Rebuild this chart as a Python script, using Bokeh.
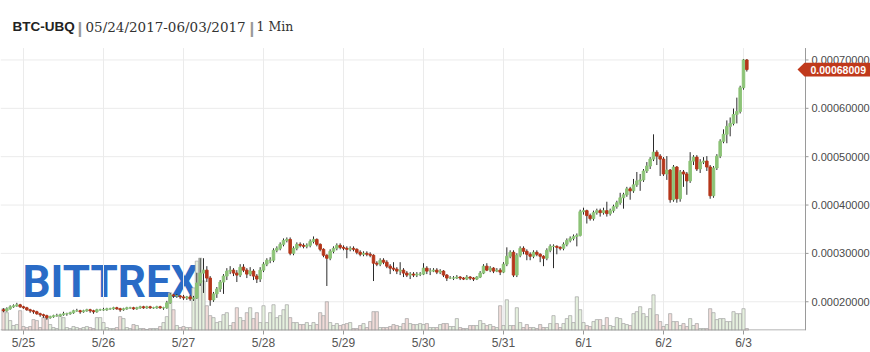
from bokeh.plotting import figure
from bokeh.models import Range1d, FixedTicker, Label, PolyAnnotation, ColumnDataSource
from bokeh.embed import file_html
from bokeh.resources import INLINE
from bokeh.core.properties import value

# ---------------- data (hourly candles, prices in satoshi) ----------------
hours = list(range(-6, 218))  # hours from 2017-05-25 00:00
first_open_sat = 18340
closes_sat = [
    18135, 18545, 18955, 19160, 19365, 18955,
    18750, 18340, 18135, 17930, 17520, 17315, 17110, 16700, 16905, 17110, 17110, 17315,
    17520, 17520, 17725, 18135, 18135, 17930, 18135, 18340, 18135, 17930, 18340, 18340,
    18340, 18545, 18545, 18750, 18545, 18340, 18545, 18750, 18750, 18545, 18750, 18955,
    18750, 18955, 18750, 18750, 18955, 18750, 18750, 19775, 21415, 21210, 21210, 21005,
    20800, 21005, 20595, 20800, 23875, 25925, 26540, 24900, 20390, 21620, 22645, 24080,
    25310, 26335, 26540, 25925, 25515, 27155, 26540, 25720, 26335, 25310, 24695, 26540,
    27770, 28590, 28590, 30640, 31050, 31870, 32690, 32895, 30025, 31050, 31870, 31665,
    31460, 31665, 32485, 32895, 31870, 30845, 29615, 29000, 30435, 31050, 31665, 31255,
    31050, 30845, 31050, 30845, 30230, 29820, 30025, 29820, 29615, 27975, 27770, 28590,
    28180, 27360, 26950, 26745, 26335, 26540, 25925, 25515, 25720, 25515, 25720, 25720,
    26950, 26335, 26335, 26540, 26130, 26335, 25515, 24900, 24900, 24900, 25105, 24900,
    24695, 25105, 24900, 24695, 25105, 25925, 27360, 26540, 26950, 26335, 26540, 26130,
    27770, 29410, 30230, 25515, 29615, 31050, 30435, 29820, 29410, 30230, 29820, 29410,
    29000, 30640, 31460, 31460, 31255, 31050, 31870, 32690, 33100, 33510, 33715, 38635,
    38840, 37815, 37200, 38430, 38840, 38430, 38840, 38225, 38840, 39660, 40480, 41505,
    42120, 43350, 42940, 44170, 44990, 45195, 47040, 48065, 49500, 50935, 50115, 49500,
    46425, 47245, 41095, 47860, 41300, 46835, 46425, 44990, 49090, 49910, 47450, 48885,
    49090, 47860, 41915, 47655, 50115, 53190, 54625, 56265, 56880, 58725, 59340, 64260,
    70000, 68009,
]
highs_sat = [
    18650, 18850, 19260, 19460, 19780, 19570,
    19160, 18955, 18545, 18340, 18135, 17725, 17520, 17315, 17110, 17315, 17520, 17520,
    17930, 17725, 17930, 18340, 18545, 18340, 18340, 18545, 18545, 18340, 18545, 18545,
    18750, 18750, 18750, 18955, 18955, 18750, 18750, 18955, 18955, 18955, 18955, 19160,
    19160, 19160, 19160, 18955, 19160, 19160, 18955, 20185, 21825, 21620, 21620, 21415,
    21415, 21210, 21415, 21210, 26000, 29000, 29000, 27360, 25310, 22030, 23050, 24490,
    25720, 26950, 27360, 26950, 26540, 27770, 27770, 26950, 27155, 26745, 25720, 27155,
    28180, 29000, 29205, 31050, 31460, 32280, 33100, 33305, 33305, 31460, 32280, 32280,
    32075, 32075, 32895, 33510, 33100, 32075, 31050, 29820, 30845, 31460, 32075, 32075,
    31665, 31460, 31460, 31460, 31050, 30640, 30435, 30435, 30230, 29820, 28385, 29000,
    29000, 28590, 27770, 28180, 27155, 28180, 26950, 26335, 26130, 26130, 26130, 26130,
    27975, 27360, 26950, 26950, 26950, 26745, 26540, 25720, 25310, 25310, 25515, 25310,
    25105, 25515, 25310, 25105, 25310, 26335, 27770, 27975, 27360, 27155, 26950, 26950,
    28180, 31255, 30640, 30640, 30025, 31460, 31460, 30845, 30230, 30640, 30640, 30025,
    29615, 31050, 31870, 31870, 31665, 31460, 32280, 33100, 33510, 33920, 34125, 39045,
    39455, 39045, 38225, 38840, 39250, 39250, 39455, 40685, 39250, 40070, 40890, 42530,
    42530, 43760, 43760, 45400, 46835, 46425, 47450, 48885, 49910, 54625, 51345, 50525,
    49910, 50115, 47450, 48270, 48065, 47245, 47245, 46835, 50935, 50320, 50320, 49500,
    49910, 50115, 48270, 48065, 50525, 53600, 55650, 57500, 58110, 59955, 62210, 64670,
    70200, 70200,
]
lows_sat = [
    17830, 17930, 18340, 18750, 18955, 18750,
    18545, 18135, 17725, 17520, 17315, 16905, 16700, 16290, 16495, 16700, 16905, 16905,
    17110, 17110, 17315, 17520, 17930, 17520, 17725, 17930, 17725, 17520, 17725, 18135,
    18135, 18135, 18340, 18340, 18340, 17930, 18135, 18340, 18545, 18340, 18340, 18545,
    18545, 18545, 18545, 18545, 18545, 18545, 18340, 18545, 19570, 20800, 20800, 20595,
    20390, 20390, 20185, 20185, 20595, 23260, 21825, 24080, 19160, 19980, 20800, 22030,
    21625, 24490, 25720, 25310, 24080, 25105, 26130, 24900, 25310, 24490, 23875, 24080,
    26130, 27360, 27975, 28180, 30230, 30640, 31460, 32280, 29615, 29615, 30640, 31255,
    31050, 31050, 31255, 32075, 31460, 30435, 29205, 23260, 28590, 30025, 30640, 30845,
    30640, 29000, 30435, 30435, 29820, 29410, 29410, 29410, 29205, 24285, 27360, 27360,
    27770, 26950, 25720, 26335, 25720, 25515, 25105, 25105, 24695, 25105, 25105, 25310,
    25515, 25720, 25515, 26130, 25720, 25720, 25105, 24285, 24695, 24490, 24695, 24490,
    24490, 24490, 24490, 24285, 24490, 24900, 25720, 26335, 26130, 25925, 26130, 25515,
    25925, 27360, 29000, 25105, 25105, 29205, 29820, 28590, 28590, 29000, 29410, 28180,
    27360, 28590, 30230, 26950, 29820, 30640, 30640, 31460, 32280, 32690, 31460, 33510,
    38020, 36175, 36790, 36790, 38020, 37610, 38020, 37610, 37815, 38430, 39250, 40070,
    39250, 41710, 41100, 42530, 43760, 42940, 44785, 46630, 47450, 49090, 48270, 46015,
    46015, 45195, 40480, 40685, 40480, 40685, 43760, 42120, 44580, 48270, 47040, 46630,
    48475, 47040, 41300, 41505, 47245, 49705, 52780, 52780, 54215, 56470, 56880, 58930,
    63850, 67600,
]
volumes = [
    22, 18, 10, 5, 6, 20,
    4, 3, 4, 11, 10, 3, 13, 12, 6, 3, 2, 15, 13, 3, 2, 4, 3, 2, 3, 4, 3, 2, 13, 13,
    8, 3, 2, 2, 3, 14, 12, 3, 2, 6, 5, 2, 2, 1, 2, 2, 2, 4, 8, 14, 38, 21, 5, 3,
    4, 3, 3, 43, 70, 73, 50, 25, 15, 13, 8, 9, 16, 18, 5, 8, 23, 13, 10, 18, 23, 12, 18, 8,
    25, 8, 18, 26, 13, 15, 21, 26, 13, 8, 8, 6, 6, 8, 5, 8, 6, 18, 15, 29, 8, 5, 7, 5,
    6, 7, 8, 2, 2, 5, 7, 3, 9, 19, 19, 3, 3, 3, 4, 6, 5, 4, 7, 12, 7, 6, 6, 7,
    6, 7, 3, 3, 3, 6, 7, 7, 4, 4, 12, 3, 2, 2, 5, 5, 5, 10, 7, 5, 6, 4, 3, 25,
    5, 31, 5, 5, 23, 8, 3, 6, 3, 3, 2, 6, 3, 3, 7, 15, 7, 3, 7, 12, 15, 8, 34, 21,
    8, 5, 4, 9, 11, 11, 5, 13, 5, 4, 13, 12, 7, 6, 5, 17, 19, 24, 17, 14, 22, 36, 16, 9,
    4, 6, 17, 9, 9, 5, 7, 4, 12, 5, 7, 2, 2, 2, 22, 18, 11, 12, 12, 9, 9, 19, 17, 17,
    22, 2,
]
day_ticks = [0, 24, 48, 72, 96, 120, 144, 168, 192, 216]
day_labels = ["5/25", "5/26", "5/27", "5/28", "5/29", "5/30", "5/31", "6/1", "6/2", "6/3"]
price_ticks = [0.0002, 0.0003, 0.0004, 0.0005, 0.0006, 0.0007]
title_pair = "BTC-UBQ"
title_dates = "05/24/2017-06/03/2017"
title_interval = "1 Min"

# ---------------- derived ----------------
SAT = 1e-8
close = [c * SAT for c in closes_sat]
opens = [first_open_sat * SAT] + close[:-1]
high = [h * SAT for h in highs_sat]
low = [l * SAT for l in lows_sat]
up = [c >= o for o, c in zip(opens, close)]

GREEN = "#8cc377"
RED = "#b5361a"
VGREEN = "#e5f0de"
VRED = "#f0dbd8"
AXIS = "#9a9a9a"
GRID = "#ebebeb"

src = ColumnDataSource(dict(
    x=hours, top=[max(o, c) for o, c in zip(opens, close)],
    bottom=[min(o, c) for o, c in zip(opens, close)],
    high=high, low=low,
    color=[GREEN if u else RED for u in up],
    vol=volumes, vcolor=[VGREEN if u else VRED for u in up],
))

# frame covers whole canvas except the x-axis strip at the bottom
FW, FH = 870, 333
PX_PER_H = 80.0 / 24.0
X0 = -23 / PX_PER_H
X1 = X0 + FW / PX_PER_H
PX_PER_P = 48.8 / 0.0001
Y0 = 0.0007 - (333 - 60) / PX_PER_P
Y1 = 0.0007 + 60 / PX_PER_P
hpp = 1 / PX_PER_H
ppp = 1 / PX_PER_P
X_AX = X0 + 805 * hpp        # plot area right edge (price axis)
Y_TOP = Y1 - 48 * ppp        # plot area top edge

p = figure(width=870, height=352, x_range=Range1d(X0, X1), y_range=Range1d(Y0, Y1),
           output_backend="svg", toolbar_location=None, y_axis_location=None,
           min_border_left=0, min_border_right=0, min_border_top=0, min_border_bottom=19)
p.outline_line_color = None
p.background_fill_color = "white"
p.border_fill_color = "white"
p.xgrid.grid_line_color = None
p.ygrid.grid_line_color = None

p.extra_y_ranges = {"vol": Range1d(0, max(volumes) * FH / 73.0)}

# x axis (ticks + labels)
xa = p.xaxis[0]
xa.ticker = FixedTicker(ticks=day_ticks)
xa.major_label_overrides = {t: l for t, l in zip(day_ticks, day_labels)}
xa.axis_line_color = None
xa.major_tick_line_color = AXIS
xa.major_tick_out = 4
xa.major_tick_in = 0
xa.minor_tick_line_color = None
xa.major_label_standoff = 1
xa.major_label_text_font = "Liberation Sans"
xa.major_label_text_font_size = "12px"
xa.major_label_text_color = "#555555"

# grid lines limited to the plot area
p.segment(x0=day_ticks, x1=day_ticks, y0=[Y0] * len(day_ticks), y1=[Y_TOP] * len(day_ticks),
          line_color=GRID, line_width=1)
p.segment(x0=[X0] * len(price_ticks), x1=[X_AX] * len(price_ticks), y0=price_ticks, y1=price_ticks,
          line_color=GRID, line_width=1)

# watermark
p.add_layout(Label(x=22, y=49, x_units="screen", y_units="screen", text="BITTREX",
                   text_font="Roboto", text_font_style="bold", text_font_size="44px",
                   text_baseline="alphabetic", text_color="#2a6bc6", level="underlay"))

# volume
p.vbar(x="x", top="vol", bottom=0, width=0.95, y_range_name="vol", source=src,
       fill_color="vcolor", line_color="#a3a3a3", line_width=0.7)

# candles
p.segment(x0="x", y0="high", x1="x", y1="low", line_color="#2b2b2b", line_width=1, source=src)
p.vbar(x="x", top="top", bottom="bottom", width=0.75, source=src,
       fill_color="color", line_color="color", line_width=1)

# axis lines (bottom and right of plot area)
p.segment(x0=[X0], x1=[X_AX], y0=[Y0 + 0.5 * ppp], y1=[Y0 + 0.5 * ppp], line_color=AXIS, line_width=1)
p.segment(x0=[X_AX], x1=[X_AX], y0=[Y0], y1=[Y_TOP], line_color=AXIS, line_width=1)

# price axis ticks and labels
p.segment(x0=[X_AX] * len(price_ticks), x1=[X_AX + 3 * hpp] * len(price_ticks),
          y0=price_ticks, y1=price_ticks, line_color=AXIS, line_width=1)
p.text(x=[X_AX + 6 * hpp] * len(price_ticks), y=price_ticks,
       text=["%.8f" % v for v in price_ticks], text_baseline="middle", text_align="left",
       text_font=value("Liberation Sans"), text_font_size="11px", text_color="#4a4a4a")

# title
ty = 333 - 29
p.add_layout(Label(x=12, y=ty, x_units="screen", y_units="screen", text=title_pair,
                   text_font="Liberation Sans", text_font_style="bold", text_font_size="13.5px",
                   text_baseline="alphabetic", text_color="#222222"))
p.add_layout(Label(x=77, y=ty - 2, x_units="screen", y_units="screen", text="|",
                   text_font="Liberation Sans", text_font_style="bold", text_font_size="17px",
                   text_baseline="alphabetic", text_color="#999999"))
p.add_layout(Label(x=85, y=ty, x_units="screen", y_units="screen", text=title_dates,
                   text_font="DejaVu Serif", text_font_size="13.5px",
                   text_baseline="alphabetic", text_color="#333333"))
p.add_layout(Label(x=249, y=ty - 2, x_units="screen", y_units="screen", text="|",
                   text_font="Liberation Sans", text_font_style="bold", text_font_size="17px",
                   text_baseline="alphabetic", text_color="#999999"))
p.add_layout(Label(x=256, y=ty, x_units="screen", y_units="screen", text=title_interval,
                   text_font="DejaVu Serif", text_font_size="12.5px",
                   text_baseline="alphabetic", text_color="#333333"))

# last price tag
last = close[-1]
tag = PolyAnnotation(
    xs=[X_AX - 8 * hpp, X_AX - 1 * hpp, X1, X1, X_AX - 1 * hpp],
    ys=[last, last + 7 * ppp, last + 7 * ppp, last - 7 * ppp, last - 7 * ppp],
    fill_color="#c0391b", fill_alpha=1.0, line_color=None, level="overlay")
p.add_layout(tag)
p.add_layout(Label(x=X_AX + 5 * hpp, y=last, text="%.8f" % last, text_baseline="middle",
                   text_font="Liberation Sans", text_font_style="bold", text_font_size="10.5px",
                   text_color="white", level="overlay"))

open("out.html", "w").write(file_html(p, INLINE))
